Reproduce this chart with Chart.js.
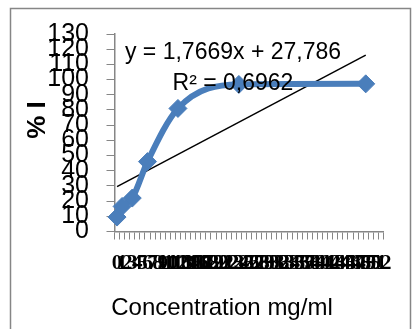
<!DOCTYPE html>
<html>
<head>
<meta charset="utf-8">
<script src="https://cdn.jsdelivr.net/npm/chart.js@4/dist/chart.umd.min.js"></script>
<style>
  html, body { margin: 0; padding: 0; background: #ffffff; }
  #wrap { position: relative; width: 412px; height: 329px; }
</style>
</head>
<body>
<div id="wrap"><canvas id="chart" width="412" height="329"></canvas></div>
<script>
// Category axis: concentration ticks 0 .. 52
const concentrationLabels = [
  '0','1','2','3','4','5','6','7','8','9',
  '10','11','12','13','14','15','16','17','18','19',
  '20','21','22','23','24','25','26','27','28','29',
  '30','31','32','33','34','35','36','37','38','39',
  '40','41','42','43','44','45','46','47','48','49',
  '50','51','52'
];

// Measured points: category where each sample sits, and its % inhibition
const sampleCategories = ['0', '1', '3', '6', '12', '24', '49'];
const inhibitionPercent = [9.5, 16.5, 22, 46, 81, 96.8, 97.2];

// Linear trend line as reported on the chart (x = 1-based category position)
const trendSlope = 1.7669;
const trendIntercept = 27.786;
const trendStartCategory = '0';
const trendEndCategory = '49';
const trendText = ['y = 1,7669x + 27,786', 'R\u00B2 = 0,6962'];

// Y axis range and step
const yMin = 0, yMax = 130, yStep = 10;

const axisTitleX = 'Concentration mg/ml';
const axisTitleY = '% I';

const seriesBlue = '#4A7EBB';
const axisGrey = '#868686';

const seriesData = sampleCategories.map((c, i) => ({ x: c, y: inhibitionPercent[i] }));
const trendPos = c => concentrationLabels.indexOf(c) + 1;
const trendData = [
  { x: trendStartCategory, y: trendIntercept + trendSlope * trendPos(trendStartCategory) },
  { x: trendEndCategory, y: trendIntercept + trendSlope * trendPos(trendEndCategory) }
];

// Frame, axis titles and the regression label
const decorations = {
  id: 'decorations',
  beforeDraw(chart) {
    const ctx = chart.ctx;
    ctx.save();
    ctx.fillStyle = '#ffffff';
    ctx.fillRect(0, 0, chart.width, chart.height);
    ctx.strokeStyle = axisGrey;
    ctx.lineWidth = 1.5;
    ctx.strokeRect(10.5, 8.5, 400, 340);
    ctx.restore();
  },
  afterDraw(chart) {
    const ctx = chart.ctx;
    ctx.save();
    ctx.fillStyle = '#000000';
    ctx.textAlign = 'center';
    ctx.textBaseline = 'middle';
    ctx.font = '23px "Liberation Sans", Arial, sans-serif';
    ctx.fillText(trendText[0], 233, 53);
    ctx.fillText(trendText[1], 233, 84);

    ctx.font = '24px "Liberation Sans", Arial, sans-serif';
    ctx.fillText(axisTitleX, 222, 308);

    ctx.translate(38, 120);
    ctx.rotate(-Math.PI / 2);
    ctx.font = 'bold 26px "Liberation Sans", Arial, sans-serif';
    ctx.fillText(axisTitleY, 0, 0);
    ctx.restore();
  }
};

new Chart(document.getElementById('chart'), {
  type: 'line',
  data: {
    labels: concentrationLabels,
    datasets: [
      {
        label: '% I',
        data: seriesData,
        borderColor: seriesBlue,
        backgroundColor: seriesBlue,
        borderWidth: 6,
        borderCapStyle: 'round',
        borderJoinStyle: 'round',
        cubicInterpolationMode: 'monotone',
        pointStyle: 'rectRot',
        pointRadius: 9,
        pointBorderWidth: 1,
        pointBackgroundColor: seriesBlue,
        pointBorderColor: seriesBlue,
        fill: false
      },
      {
        label: 'Linear',
        data: trendData,
        borderColor: '#000000',
        borderWidth: 1.5,
        pointRadius: 0,
        tension: 0,
        fill: false
      }
    ]
  },
  options: {
    responsive: false,
    animation: false,
    devicePixelRatio: 1,
    events: [],
    layout: {
      autoPadding: false,
      padding: { left: 0, right: 28.5, top: 34, bottom: 0 }
    },
    plugins: {
      legend: { display: false },
      tooltip: { enabled: false },
      title: { display: false }
    },
    scales: {
      x: {
        type: 'category',
        offset: true,
        afterFit(scale) { scale.height = 97.5; },
        grid: {
          display: true,
          drawOnChartArea: false,
          drawTicks: true,
          tickLength: 8,
          color: axisGrey,
          lineWidth: 1,
          offset: true
        },
        border: { display: true, color: axisGrey, width: 1.5 },
        ticks: {
          autoSkip: false,
          maxRotation: 0,
          minRotation: 0,
          padding: 11,
          color: '#000000',
          font: { family: '"Liberation Serif", "Times New Roman", serif', size: 21, weight: 'bold' }
        }
      },
      y: {
        type: 'linear',
        min: yMin,
        max: yMax,
        afterFit(scale) { scale.width = 114.5; },
        grid: {
          display: true,
          drawOnChartArea: false,
          drawTicks: true,
          tickLength: 8,
          color: axisGrey,
          lineWidth: 1
        },
        border: { display: true, color: axisGrey, width: 1.5 },
        ticks: {
          stepSize: yStep,
          autoSkip: false,
          padding: 17.5,
          color: '#000000',
          font: { family: '"Liberation Sans", Arial, sans-serif', size: 25 }
        }
      }
    }
  },
  plugins: [decorations]
});
</script>
</body>
</html>
